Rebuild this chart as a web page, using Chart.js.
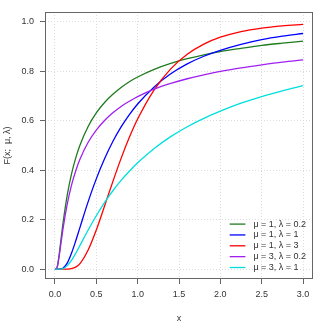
<!DOCTYPE html>
<html>
<head>
<meta charset="utf-8">
<script src="https://cdn.jsdelivr.net/npm/chart.js@4.4.1/dist/chart.umd.min.js"></script>
<style>
  html, body { margin: 0; padding: 0; background: #fff; }
</style>
</head>
<body>
<canvas id="cdfChart" width="325" height="325"></canvas>
<script>
// values
const xValues = [0, 0.01, 0.03, 0.05, 0.07, 0.1, 0.15, 0.2, 0.25, 0.3, 0.4, 0.5, 0.6, 0.7, 0.8, 0.9, 1.0, 1.2, 1.4, 1.6, 1.8, 2.0, 2.25, 2.5, 2.75, 3.0];
const mu1Lambda02 = [0, 0, 0.012, 0.055, 0.111, 0.191, 0.301, 0.384, 0.448, 0.499, 0.576, 0.632, 0.674, 0.707, 0.735, 0.758, 0.777, 0.808, 0.832, 0.851, 0.867, 0.880, 0.893, 0.905, 0.914, 0.922];
const mu1Lambda1 = [0, 0, 0, 0, 0.0004, 0.004, 0.025, 0.064, 0.113, 0.166, 0.271, 0.365, 0.446, 0.516, 0.575, 0.625, 0.668, 0.737, 0.790, 0.830, 0.861, 0.885, 0.909, 0.928, 0.942, 0.953];
const mu1Lambda3 = [0, 0, 0, 0, 0, 0, 0.0001, 0.002, 0.008, 0.021, 0.076, 0.158, 0.255, 0.354, 0.448, 0.533, 0.607, 0.725, 0.810, 0.869, 0.910, 0.938, 0.961, 0.975, 0.984, 0.990];
const mu3Lambda02 = [0, 0, 0.011, 0.049, 0.097, 0.168, 0.265, 0.339, 0.396, 0.442, 0.512, 0.562, 0.601, 0.632, 0.658, 0.679, 0.698, 0.728, 0.751, 0.770, 0.786, 0.800, 0.814, 0.826, 0.837, 0.846];
const mu3Lambda1 = [0, 0, 0, 0, 0.0002, 0.002, 0.014, 0.035, 0.063, 0.094, 0.157, 0.216, 0.269, 0.317, 0.359, 0.396, 0.430, 0.488, 0.536, 0.576, 0.610, 0.639, 0.671, 0.698, 0.721, 0.742];

const seriesLabels = ["μ = 1, λ = 0.2", "μ = 1, λ = 1", "μ = 1, λ = 3", "μ = 3, λ = 0.2", "μ = 3, λ = 1"];
const seriesValues = [mu1Lambda02, mu1Lambda1, mu1Lambda3, mu3Lambda02, mu3Lambda1];
const seriesColors = ["#1e7b1e", "#0000ff", "#ff0000", "#a020f0", "#00dede"];

const xTicks = [0, 0.5, 1, 1.5, 2, 2.5, 3];
const yTicks = [0, 0.2, 0.4, 0.6, 0.8, 1.0];

const fontFamily = "'Liberation Sans', Arial, sans-serif";
const textColor = "#333";

const boxAndLegend = {
  id: "boxAndLegend",
  afterDraw(chart) {
    const ctx = chart.ctx;
    const a = chart.chartArea;
    ctx.save();
    ctx.strokeStyle = "#666";
    ctx.lineWidth = 1;
    ctx.strokeRect(Math.round(a.left) + 0.5, Math.round(a.top) + 0.5,
      Math.round(a.right - a.left) - 1, Math.round(a.bottom - a.top) - 1);

    // legend, bottom right inside the plot
    ctx.font = "9px " + fontFamily;
    ctx.textBaseline = "middle";
    ctx.textAlign = "left";
    const n = chart.data.datasets.length;
    chart.data.datasets.forEach((ds, i) => {
      const y = a.bottom - 11.5 - (n - 1 - i) * 10.85;
      ctx.strokeStyle = ds.borderColor;
      ctx.lineWidth = 1.3;
      ctx.beginPath();
      ctx.moveTo(a.right - 83.3, y);
      ctx.lineTo(a.right - 67.6, y);
      ctx.stroke();
      ctx.fillStyle = textColor;
      ctx.fillText(ds.label, a.right - 59.6, y);
    });
    ctx.restore();
  }
};

const ctx = document.getElementById("cdfChart").getContext("2d");
const cdfChart = new Chart(ctx, {
  type: "line",
  data: {
    datasets: seriesValues.map((vals, i) => ({
      label: seriesLabels[i],
      data: xValues.map((x, j) => ({ x: x, y: vals[j] })),
      borderColor: seriesColors[i],
      backgroundColor: seriesColors[i],
      borderWidth: 1.3,
      pointRadius: 0,
      fill: false,
      cubicInterpolationMode: "monotone",
      order: seriesValues.length - i,
    })),
  },
  options: {
    responsive: false,
    animation: false,
    devicePixelRatio: 1,
    layout: { padding: { top: 12, right: 12, left: 0, bottom: 0 } },
    plugins: {
      legend: { display: false },
      tooltip: { enabled: false },
    },
    scales: {
      x: {
        type: "linear",
        min: -0.12,
        max: 3.12,
        afterBuildTicks: (scale) => {
          scale.ticks = xTicks.map((v) => ({ value: v }));
        },
        afterFit: (scale) => {
          scale.height = 46;
        },
        ticks: {
          callback: (v) => v.toFixed(1),
          font: { family: fontFamily, size: 9 },
          color: textColor,
          padding: 5,
          maxRotation: 0,
          autoSkip: false,
        },
        grid: {
          color: "#dcdcdc",
          lineWidth: 1,
          tickColor: "#666",
          tickLength: 5,
          tickWidth: 1,
          tickBorderDash: [],
        },
        border: { display: false, dash: [1, 2] },
        title: {
          display: true,
          text: "x",
          font: { family: fontFamily, size: 9 },
          color: textColor,
          padding: { top: 0, bottom: 1 },
        },
      },
      y: {
        type: "linear",
        min: -0.04,
        max: 1.04,
        afterBuildTicks: (scale) => {
          scale.ticks = yTicks.map((v) => ({ value: v }));
        },
        afterFit: (scale) => {
          scale.width = 45;
        },
        ticks: {
          callback: (v) => v.toFixed(1),
          font: { family: fontFamily, size: 9 },
          color: textColor,
          padding: 6,
          autoSkip: false,
        },
        grid: {
          color: "#dcdcdc",
          lineWidth: 1,
          tickColor: "#666",
          tickLength: 5,
          tickWidth: 1,
          tickBorderDash: [],
        },
        border: { display: false, dash: [1, 2] },
        title: {
          display: true,
          text: "F(x;  μ, λ)",
          font: { family: fontFamily, size: 9 },
          color: textColor,
          padding: { top: 2, bottom: 0 },
        },
      },
    },
  },
  plugins: [boxAndLegend],
});
</script>
</body>
</html>
